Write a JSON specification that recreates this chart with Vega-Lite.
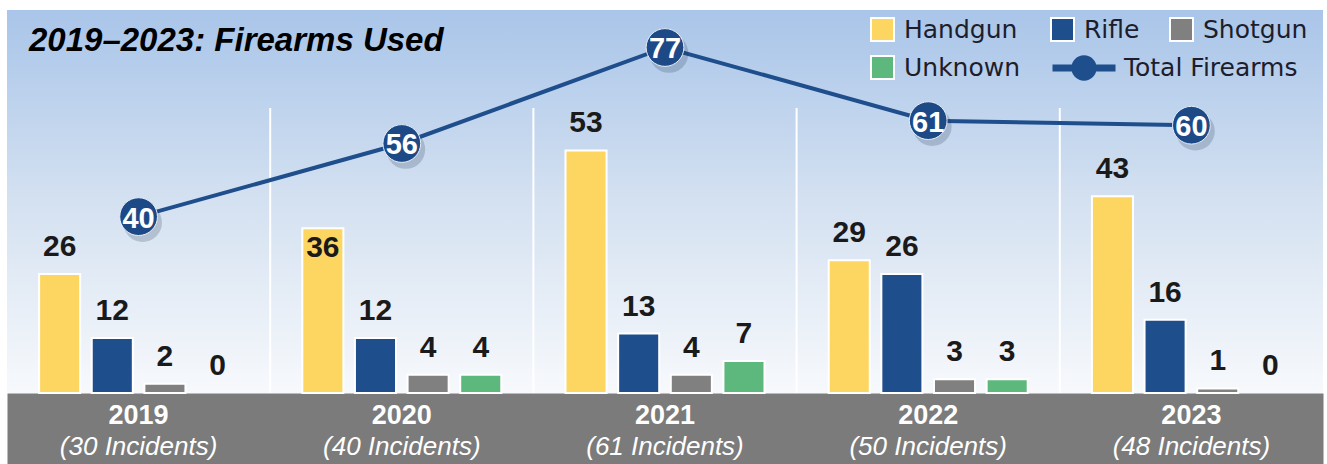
{
  "$schema": "https://vega.github.io/schema/vega-lite/v6.json",
  "width": 1316,
  "height": 383,
  "autosize": {"type": "none"},
  "padding": {"left": 7, "top": 10, "right": 4, "bottom": 71},
  "background": "#ffffff",
  "config": {"view": {"stroke": null}, "font": "Liberation Sans"},
  "title": {
    "text": "2019–2023: Firearms Used",
    "anchor": "start", "frame": "group", "orient": "top", "offset": 0,
    "dx": 22, "dy": 74, "baseline": "alphabetic",
    "font": "Liberation Sans", "fontSize": 33, "fontStyle": "italic", "fontWeight": "bold", "color": "#000000"
  },
  "datasets": {
    "firearms": [
      {"period": "2019|(30 Incidents)", "type": "Handgun", "count": 26},
      {"period": "2019|(30 Incidents)", "type": "Rifle", "count": 12},
      {"period": "2019|(30 Incidents)", "type": "Shotgun", "count": 2},
      {"period": "2019|(30 Incidents)", "type": "Unknown", "count": 0},
      {"period": "2020|(40 Incidents)", "type": "Handgun", "count": 36},
      {"period": "2020|(40 Incidents)", "type": "Rifle", "count": 12},
      {"period": "2020|(40 Incidents)", "type": "Shotgun", "count": 4},
      {"period": "2020|(40 Incidents)", "type": "Unknown", "count": 4},
      {"period": "2021|(61 Incidents)", "type": "Handgun", "count": 53},
      {"period": "2021|(61 Incidents)", "type": "Rifle", "count": 13},
      {"period": "2021|(61 Incidents)", "type": "Shotgun", "count": 4},
      {"period": "2021|(61 Incidents)", "type": "Unknown", "count": 7},
      {"period": "2022|(50 Incidents)", "type": "Handgun", "count": 29},
      {"period": "2022|(50 Incidents)", "type": "Rifle", "count": 26},
      {"period": "2022|(50 Incidents)", "type": "Shotgun", "count": 3},
      {"period": "2022|(50 Incidents)", "type": "Unknown", "count": 3},
      {"period": "2023|(48 Incidents)", "type": "Handgun", "count": 43},
      {"period": "2023|(48 Incidents)", "type": "Rifle", "count": 16},
      {"period": "2023|(48 Incidents)", "type": "Shotgun", "count": 1},
      {"period": "2023|(48 Incidents)", "type": "Unknown", "count": 0}
    ],
    "totals": [
      {"period": "2019|(30 Incidents)", "total": 40},
      {"period": "2020|(40 Incidents)", "total": 56},
      {"period": "2021|(61 Incidents)", "total": 77},
      {"period": "2022|(50 Incidents)", "total": 61},
      {"period": "2023|(48 Incidents)", "total": 60}
    ]
  },
  "layer": [
    {
      "data": {"values": [{}]},
      "mark": {"type": "rect", "fill": {"gradient": "linear", "x1": 0, "y1": 0, "x2": 0, "y2": 1,
        "stops": [{"offset": 0, "color": "#a9c5e9"}, {"offset": 0.5, "color": "#d4e1f1"}, {"offset": 1, "color": "#f7f9fc"}]}},
      "encoding": {}
    },
    {
      "data": {"name": "firearms"},
      "transform": [{"filter": "datum.count > 0"}],
      "mark": {"type": "bar", "stroke": "#ffffff", "strokeWidth": 2},
      "encoding": {
        "x": {"field": "period", "type": "nominal",
          "scale": {"type": "band", "paddingInner": 0, "paddingOuter": 0},
          "axis": {"orient": "bottom", "offset": 35.5, "domain": true, "domainColor": "#7b7b7b", "domainWidth": 71, "domainCap": "butt",
            "ticks": false, "labels": false, "grid": false, "title": null}},
        "xOffset": {"field": "type", "type": "nominal",
          "scale": {"domain": ["Handgun", "Rifle", "Shotgun", "Unknown"], "paddingInner": 0.22, "paddingOuter": 0.61}},
        "y": {"field": "count", "type": "quantitative", "scale": {"domain": [0, 83.7], "nice": false, "zero": true}, "axis": null},
        "color": {"field": "type", "type": "nominal",
          "scale": {"domain": ["Handgun", "Rifle", "Shotgun", "Unknown"], "range": ["#fdd662", "#1f4e8c", "#808080", "#5cb87c"]},
          "legend": {"orient": "none", "legendX": 863, "legendY": 7, "columns": 3, "direction": "horizontal", "title": null,
            "symbolType": "square", "symbolSize": 529, "symbolStrokeColor": "#ffffff", "symbolStrokeWidth": 2, "symbolOpacity": 1,
            "labelFont": "DejaVu Sans", "labelFontSize": 25, "labelColor": "#1d1d2b", "labelOffset": 9, "labelLimit": 300,
            "columnPadding": 26, "rowPadding": 7, "padding": 0}}
      }
    },
    {
      "data": {"name": "totals"},
      "transform": [{"filter": "indexof(datum.period, '2019') < 0"}],
      "mark": {"type": "rule", "stroke": "#ffffff", "strokeWidth": 2},
      "encoding": {
        "x": {"field": "period", "type": "nominal", "bandPosition": 0,
          "scale": {"type": "band", "paddingInner": 0, "paddingOuter": 0}, "axis": null},
        "y": {"datum": 62.3, "type": "quantitative", "scale": {"domain": [0, 83.7], "nice": false, "zero": true}, "axis": null},
        "y2": {"datum": 0}
      }
    },
    {
      "data": {"name": "firearms"},
      "transform": [{"filter": "!(datum.type == 'Handgun' && datum.count == 36)"}],
      "mark": {"type": "text", "dy": -27, "baseline": "middle", "font": "Liberation Sans", "fontSize": 30, "fontWeight": "bold", "color": "#1a1a1a"},
      "encoding": {
        "x": {"field": "period", "type": "nominal",
          "scale": {"type": "band", "paddingInner": 0, "paddingOuter": 0},
          "axis": {"orient": "bottom", "domain": false, "ticks": false, "tickSize": 0, "grid": false, "title": null,
            "labelExpr": "split(datum.value, '|')[0]", "labelFont": "Liberation Sans", "labelFontSize": 27, "labelFontWeight": "bold",
            "labelColor": "#ffffff", "labelBaseline": "middle", "labelPadding": 22, "labelAngle": 0, "labelOverlap": false}},
        "xOffset": {"field": "type", "type": "nominal",
          "scale": {"domain": ["Handgun", "Rifle", "Shotgun", "Unknown"], "paddingInner": 0.22, "paddingOuter": 0.61}},
        "y": {"field": "count", "type": "quantitative", "scale": {"domain": [0, 83.7], "nice": false, "zero": true}, "axis": null},
        "text": {"field": "count", "type": "quantitative"}
      }
    },
    {
      "data": {"name": "firearms"},
      "transform": [{"filter": "datum.type == 'Handgun' && datum.count == 36"}],
      "mark": {"type": "text", "dy": 20, "baseline": "middle", "font": "Liberation Sans", "fontSize": 30, "fontWeight": "bold", "color": "#1a1a1a"},
      "encoding": {
        "x": {"field": "period", "type": "nominal",
          "scale": {"type": "band", "paddingInner": 0, "paddingOuter": 0}, "axis": null},
        "xOffset": {"field": "type", "type": "nominal",
          "scale": {"domain": ["Handgun", "Rifle", "Shotgun", "Unknown"], "paddingInner": 0.22, "paddingOuter": 0.61}},
        "y": {"field": "count", "type": "quantitative", "scale": {"domain": [0, 83.7], "nice": false, "zero": true}, "axis": null},
        "text": {"field": "count", "type": "quantitative"}
      }
    },
    {
      "data": {"name": "totals"},
      "mark": {"type": "line", "strokeWidth": 4},
      "encoding": {
        "x": {"field": "period", "type": "nominal",
          "scale": {"type": "band", "paddingInner": 0, "paddingOuter": 0},
          "axis": {"orient": "bottom", "domain": false, "ticks": false, "tickSize": 0, "grid": false, "title": null,
            "labelExpr": "split(datum.value, '|')[1]", "labelFont": "Liberation Sans", "labelFontSize": 26, "labelFontStyle": "italic", "labelFontWeight": "normal",
            "labelColor": "#ffffff", "labelBaseline": "middle", "labelPadding": 53, "labelAngle": 0, "labelOverlap": false}},
        "y": {"field": "total", "type": "quantitative", "scale": {"domain": [1.42, 85.2], "nice": false, "zero": false}, "axis": null},
        "stroke": {"datum": "Total Firearms", "type": "nominal", "scale": {"domain": ["Total Firearms"], "range": ["#1f4e8c"]},
          "legend": {"orient": "none", "legendX": 1042, "legendY": 23, "title": null,
            "symbolType": "M-1,0H1M-0.29,0A0.29,0.29,0,1,0,0.29,0A0.29,0.29,0,1,0,-0.29,0Z",
            "symbolSize": 3969, "symbolStrokeWidth": 7, "symbolFillColor": "#1f4e8c", "symbolStrokeColor": "#1f4e8c",
            "labelFont": "DejaVu Sans", "labelFontSize": 25, "labelColor": "#1d1d2b", "labelOffset": 5, "labelLimit": 300, "padding": 0}}
      }
    },
    {
      "data": {"name": "totals"},
      "mark": {"type": "point", "filled": true, "size": 1500, "color": "#1b2c45", "opacity": 0.2, "xOffset": 4, "yOffset": 6},
      "encoding": {
        "x": {"field": "period", "type": "nominal", "scale": {"type": "band", "paddingInner": 0, "paddingOuter": 0}, "axis": null},
        "y": {"field": "total", "type": "quantitative", "scale": {"domain": [1.42, 85.2], "nice": false, "zero": false}, "axis": null}
      }
    },
    {
      "data": {"name": "totals"},
      "mark": {"type": "point", "filled": true, "size": 1425, "fill": "#1d4a87", "stroke": "#e6edf6", "strokeWidth": 1, "opacity": 1},
      "encoding": {
        "x": {"field": "period", "type": "nominal", "scale": {"type": "band", "paddingInner": 0, "paddingOuter": 0}, "axis": null},
        "y": {"field": "total", "type": "quantitative", "scale": {"domain": [1.42, 85.2], "nice": false, "zero": false}, "axis": null}
      }
    },
    {
      "data": {"name": "totals"},
      "mark": {"type": "text", "baseline": "middle", "dy": 2, "font": "Liberation Sans", "fontSize": 29, "fontWeight": "bold", "color": "#ffffff"},
      "encoding": {
        "x": {"field": "period", "type": "nominal", "scale": {"type": "band", "paddingInner": 0, "paddingOuter": 0}, "axis": null},
        "y": {"field": "total", "type": "quantitative", "scale": {"domain": [1.42, 85.2], "nice": false, "zero": false}, "axis": null},
        "text": {"field": "total", "type": "quantitative"}
      }
    }
  ],
  "resolve": {"scale": {"y": "independent"}, "axis": {"x": "independent"}}
}
